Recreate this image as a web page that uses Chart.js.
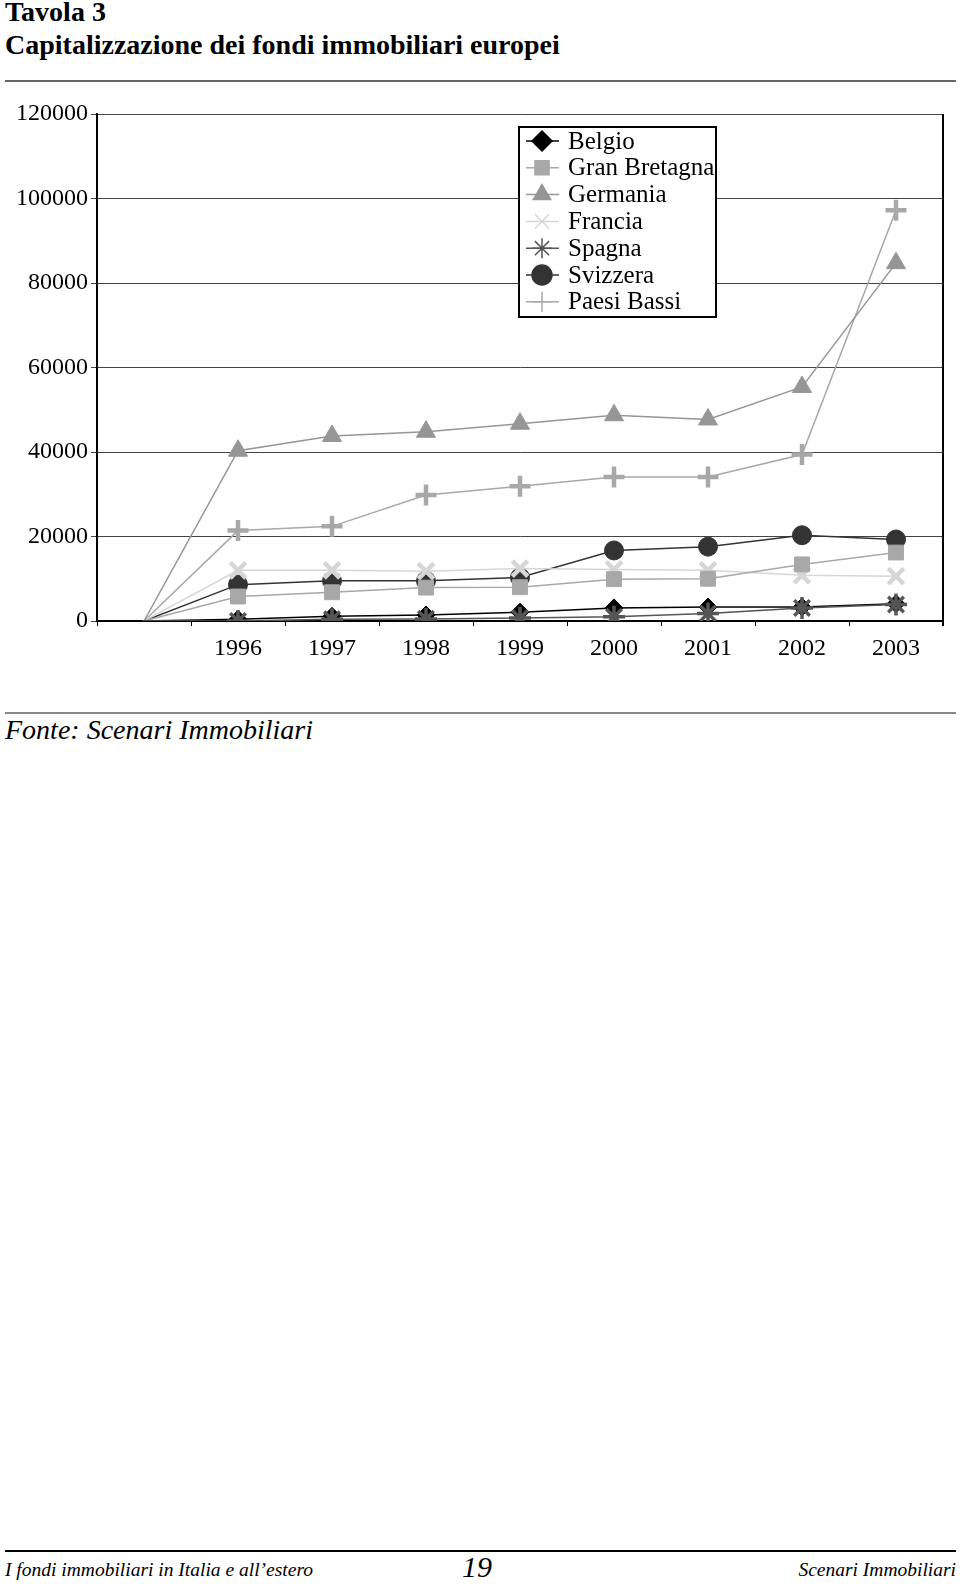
<!DOCTYPE html>
<html lang="it">
<head>
<meta charset="utf-8">
<title>Tavola 3</title>
<script src="https://cdn.jsdelivr.net/npm/chart.js@4/dist/chart.umd.min.js"></script>
<style>
  html, body { margin: 0; padding: 0; background: #fff; }
  body { position: relative; width: 960px; height: 1586px; overflow: hidden; font-family: "Liberation Serif", "Times New Roman", serif; color: #000; }
  .abs { position: absolute; white-space: nowrap; }
  #titolo1 { left: 5px; top: -4px; font-size: 28px; font-weight: bold; }
  #titolo2 { left: 5px; top: 29px; font-size: 28px; font-weight: bold; }
  #riga1 { left: 5px; top: 80px; width: 951px; height: 2px; background: #666; }
  #grafico { left: 0; top: 95px; }
  #riga2 { left: 5px; top: 712px; width: 951px; height: 2px; background: #888; }
  #fonte { left: 5px; top: 714px; font-size: 28px; font-style: italic; }
  #riga3 { left: 5px; top: 1550px; width: 951px; height: 2px; background: #000; }
  #piede1 { left: 5px; top: 1559px; font-size: 19.5px; font-style: italic; }
  #pagina { left: 462px; top: 1550px; font-size: 30px; font-style: italic; }
  #piede2 { right: 4px; top: 1559px; font-size: 19.5px; font-style: italic; }
</style>
</head>
<body>
<div class="abs" id="titolo1">Tavola 3</div>
<div class="abs" id="titolo2">Capitalizzazione dei fondi immobiliari europei</div>
<div class="abs" id="riga1"></div>
<canvas class="abs" id="grafico" width="960" height="575"></canvas>
<div class="abs" id="riga2"></div>
<div class="abs" id="fonte">Fonte: Scenari Immobiliari</div>
<div class="abs" id="riga3"></div>
<div class="abs" id="piede1">I fondi immobiliari in Italia e all’estero</div>
<div class="abs" id="pagina">19</div>
<div class="abs" id="piede2">Scenari Immobiliari</div>

<script>
// dati (primo punto senza etichetta: tutte le serie partono da 0)
const anni = ['', '1996', '1997', '1998', '1999', '2000', '2001', '2002', '2003'];
const belgio       = [0, 400, 1100, 1400, 2100, 3100, 3300, 3300, 4100];
const granBretagna = [0, 5800, 6800, 7900, 8000, 9900, 10000, 13400, 16200];
const germania     = [0, 40300, 43800, 44800, 46700, 48700, 47700, 55400, 84700];
const francia      = [0, 12000, 12000, 11800, 12400, 12200, 12000, 10800, 10600];
const spagna       = [0, 0, 400, 500, 700, 1000, 1800, 3100, 3900];
const svizzera     = [0, 8600, 9500, 9500, 10300, 16700, 17600, 20300, 19300];
const paesiBassi   = [0, 21400, 22400, 29800, 31900, 34100, 34100, 39400, 97200];

const asseYMin = 0;
const asseYMax = 120000;
const passoY = 20000;

const FONT = '"Liberation Serif", "Times New Roman", serif';

function serie(label, data, colore, punto, raggio, spessorePunto, ordine) {
    return {
        label: label,
        data: data,
        order: ordine || 0,
        borderColor: colore,
        borderWidth: 1.5,
        backgroundColor: colore,
        pointStyle: punto,
        pointRadius: ctx => ctx.dataIndex === 0 ? 0 : raggio,
        pointHoverRadius: ctx => ctx.dataIndex === 0 ? 0 : raggio,
        pointBackgroundColor: colore,
        pointBorderColor: colore,
        pointBorderWidth: spessorePunto,
        tension: 0,
        fill: false
    };
}

// bordo destro dell'area e legenda dentro il grafico
const bordoELegenda = {
    id: 'bordoELegenda',
    afterDraw(chart) {
        const ctx = chart.ctx;
        const area = chart.chartArea;
        ctx.save();
        ctx.strokeStyle = '#000';
        ctx.lineWidth = 2;
        ctx.beginPath();
        ctx.moveTo(area.right, area.top);
        ctx.lineTo(area.right, area.bottom + 5);
        ctx.stroke();

        const x0 = 519, y0 = 32, w = 197, h = 190;
        ctx.fillStyle = '#fff';
        ctx.fillRect(x0, y0, w, h);
        ctx.strokeStyle = '#000';
        ctx.lineWidth = 2;
        ctx.strokeRect(x0, y0, w, h);

        ctx.font = '25px ' + FONT;
        ctx.textBaseline = 'middle';
        ctx.textAlign = 'left';
        chart.data.datasets.forEach((ds, i) => {
            const y = y0 + 14 + i * 26.8;
            ctx.strokeStyle = ds.borderColor;
            ctx.lineWidth = ds.borderWidth;
            ctx.beginPath();
            ctx.moveTo(526, y);
            ctx.lineTo(559, y);
            ctx.stroke();
            ctx.fillStyle = ds.pointBackgroundColor;
            ctx.strokeStyle = ds.pointBorderColor;
            if (Chart.helpers && Chart.helpers.drawPoint) {
                Chart.helpers.drawPoint(ctx, {
                    pointStyle: ds.pointStyle,
                    rotation: 0,
                    radius: 10,
                    borderWidth: ds.pointBorderWidth
                }, 542, y);
            }
            ctx.fillStyle = '#000';
            ctx.fillText(ds.label, 568, y + 1);
        });
        ctx.restore();
    }
};

const ctx = document.getElementById('grafico').getContext('2d');

new Chart(ctx, {
    type: 'line',
    data: {
        labels: anni,
        datasets: [
            serie('Belgio', belgio, '#000000', 'rectRot', 9, 1),
            serie('Gran Bretagna', granBretagna, '#a8a8a8', 'rect', 10.5, 1),
            serie('Germania', germania, '#969696', 'triangle', 11, 1),
            serie('Francia', francia, '#d6d6d6', 'crossRot', 11, 4.5),
            serie('Spagna', spagna, '#555555', 'star', 11, 3.5, -1),
            serie('Svizzera', svizzera, '#333333', 'circle', 9.5, 1),
            serie('Paesi Bassi', paesiBassi, '#a8a8a8', 'cross', 10.5, 4.5)
        ]
    },
    options: {
        responsive: false,
        animation: false,
        layout: { padding: { top: 19, right: 17, left: 0, bottom: 0 } },
        plugins: {
            legend: { display: false },
            tooltip: { enabled: false }
        },
        scales: {
            x: {
                offset: true,
                afterFit: scale => { scale.height = 49; },
                grid: {
                    display: true,
                    offset: true,
                    drawOnChartArea: false,
                    drawTicks: true,
                    tickLength: 5,
                    color: '#000',
                    lineWidth: 1
                },
                border: { display: true, color: '#000', width: 2 },
                ticks: {
                    color: '#000',
                    font: { family: FONT, size: 24 },
                    padding: 8,
                    maxRotation: 0,
                    autoSkip: false
                }
            },
            y: {
                min: asseYMin,
                max: asseYMax,
                afterFit: scale => { scale.width = 97; },
                grid: {
                    color: '#444',
                    lineWidth: 1,
                    tickLength: 6,
                    drawTicks: true
                },
                border: { display: true, color: '#000', width: 2 },
                ticks: {
                    stepSize: passoY,
                    color: '#000',
                    padding: 3,
                    font: { family: FONT, size: 24 },
                    callback: v => String(v)
                }
            }
        }
    },
    plugins: [bordoELegenda]
});
</script>
</body>
</html>
